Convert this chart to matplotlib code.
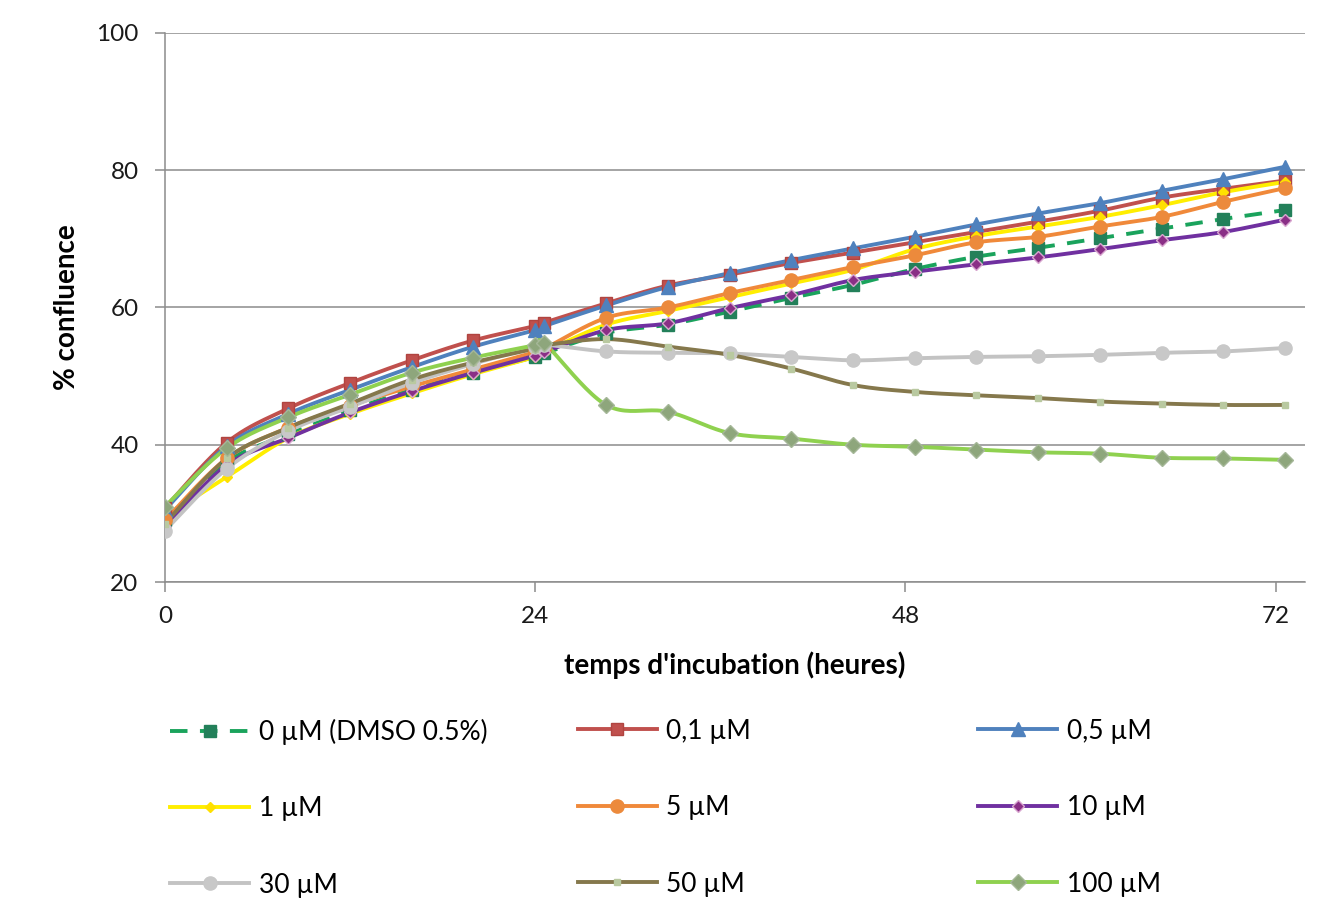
import numpy as np
import matplotlib
matplotlib.use('Agg')
import matplotlib.pyplot as plt
from matplotlib.lines import Line2D

plt.rcParams['font.family'] = ['Lato', 'DejaVu Sans']

# time points (hours) and % confluence per concentration
hours = [0, 4, 8, 12, 16, 20, 24, 24.6, 28.6, 32.6, 36.6, 40.6, 44.6,
         48.6, 52.6, 56.6, 60.6, 64.6, 68.6, 72.6]

c_dmso = [29.0, 37.5, 41.5, 45.0, 48.0, 50.5, 52.8, 53.3, 56.3, 57.5, 59.4,
          61.4, 63.3, 65.6, 67.4, 68.7, 70.1, 71.5, 72.9, 74.2]
c_01 = [30.8, 40.3, 45.3, 49.0, 52.3, 55.2, 57.3, 57.8, 60.6, 63.2, 64.8,
        66.5, 68.0, 69.5, 71.0, 72.5, 74.1, 76.0, 77.3, 78.5]
c_05 = [30.5, 39.8, 44.5, 48.0, 51.3, 54.3, 56.7, 57.3, 60.3, 63.0, 65.0,
        66.9, 68.6, 70.3, 72.1, 73.7, 75.2, 77.0, 78.7, 80.5]
c_1 = [29.5, 35.3, 41.0, 44.5, 47.5, 50.3, 52.8, 53.5, 57.5, 59.5, 61.5,
       63.5, 65.5, 68.5, 70.4, 71.8, 73.2, 74.9, 76.8, 78.3]
c_5 = [29.0, 38.0, 42.5, 45.7, 48.5, 51.0, 53.5, 54.0, 58.5, 60.0, 62.1,
       64.0, 65.9, 67.6, 69.5, 70.3, 71.8, 73.2, 75.4, 77.4]
c_10 = [28.0, 37.0, 41.0, 44.7, 47.8, 50.5, 53.0, 53.5, 56.7, 57.7, 59.9,
        61.8, 64.0, 65.2, 66.3, 67.3, 68.5, 69.8, 71.0, 72.8]
c_30 = [27.5, 36.5, 42.0, 45.5, 49.0, 51.8, 54.3, 54.6, 53.6, 53.4, 53.3,
        52.8, 52.3, 52.6, 52.8, 52.9, 53.1, 53.4, 53.6, 54.1]
c_50 = [28.5, 38.0, 42.5, 46.0, 49.5, 52.0, 54.0, 54.5, 55.4, 54.3, 53.1,
        51.1, 48.7, 47.7, 47.2, 46.8, 46.3, 46.0, 45.8, 45.8]
c_100 = [31.0, 39.5, 44.0, 47.3, 50.5, 52.7, 54.5, 54.8, 45.8, 44.8, 41.7,
         40.9, 40.0, 39.7, 39.3, 38.9, 38.7, 38.1, 38.0, 37.8]

labels = ['0 µM (DMSO 0.5%)', '0,1 µM', '0,5 µM', '1 µM', '5 µM', '10 µM',
          '30 µM', '50 µM', '100 µM']
series = [c_dmso, c_01, c_05, c_1, c_5, c_10, c_30, c_50, c_100]

# style per series: line colour, linestyle, marker, marker size, face, edge
styles = [
    ('#1aa35c', (0, (4.5, 3.2)), 's', 8.5, '#23805a', '#23805a'),
    ('#c0504d', '-', 's', 9, '#c0504d', '#b04440'),
    ('#4f81bd', '-', '^', 9.5, '#4f81bd', '#4f81bd'),
    ('#ffee00', '-', 'D', 5.5, '#ffe000', '#ffe000'),
    ('#f0893a', '-', 'o', 9.5, '#ec8a3c', '#ec8a3c'),
    ('#7030a0', '-', 'D', 6.5, '#8a2f86', '#d8a6cf'),
    ('#c3c3c3', '-', 'o', 9.5, '#c8c8c8', '#c8c8c8'),
    ('#85784c', '-', 's', 5, '#b9c9a0', '#b9c9a0'),
    ('#8fd14f', '-', 'D', 8.5, '#8ea67c', '#a5b798'),
]


def excel_smooth(x, y, n=24, sx=2.25):
    """Excel-like smoothed line: cubic Bezier through the points."""
    P = np.column_stack([np.asarray(x, float) * sx, np.asarray(y, float)])
    out = [P[0]]
    t = np.linspace(0, 1, n)[1:, None]
    for i in range(len(P) - 1):
        p0 = P[i - 1] if i > 0 else P[i]
        p1, p2 = P[i], P[i + 1]
        p3 = P[i + 2] if i + 2 < len(P) else P[i + 1]
        c1 = p1 + (p2 - p0) / 6
        c2 = p2 - (p3 - p1) / 6
        seg = ((1 - t) ** 3 * p1 + 3 * (1 - t) ** 2 * t * c1
               + 3 * (1 - t) * t ** 2 * c2 + t ** 3 * p2)
        out.extend(seg)
    out = np.array(out)
    return out[:, 0] / sx, out[:, 1]


fig = plt.figure(figsize=(13.4, 9.19), dpi=100)
ax = fig.add_axes([0.1231, 0.3667, 0.8508, 0.5974])

handles = []
for vals, lab, (col, ls, mk, ms, mfc, mec) in zip(series, labels, styles):
    sxv, syv = excel_smooth(hours, vals)
    ax.plot(sxv, syv, color=col, ls=ls, lw=2.8, zorder=2)
    ax.plot(hours, vals, ls='none', marker=mk, ms=ms, mfc=mfc, mec=mec,
            mew=1.0, zorder=3)
    handles.append(Line2D([0], [0], color=col, ls=ls, lw=2.8, marker=mk,
                          ms=ms, mfc=mfc, mec=mec, label=lab))

ax.set_xlim(0, 73.9)
ax.set_ylim(20, 100)
ax.set_xticks([0, 24, 48, 72])
ax.set_yticks([20, 40, 60, 80, 100])
ax.yaxis.grid(True, color='#8c8c8c', lw=1.1)
ax.set_axisbelow(True)
for s in ('top', 'right'):
    ax.spines[s].set_visible(False)
for s in ('left', 'bottom'):
    ax.spines[s].set_color('#8c8c8c')
    ax.spines[s].set_linewidth(1.1)
ax.tick_params(axis='both', colors='#8c8c8c', width=1.1, length=7,
               labelsize=17.5, labelcolor='#1a1a1a')
ax.tick_params(axis='y', pad=12)
ax.tick_params(axis='x', pad=10)
ax.set_xlabel("temps d'incubation (heures)", fontsize=20, fontweight='bold',
              labelpad=18)
ax.set_ylabel('% confluence', fontsize=20, fontweight='bold', labelpad=12)

# legend: three columns laid out below the plot
col_x = [0.127, 0.431, 0.730]
for c in range(3):
    hs = [handles[c], handles[c + 3], handles[c + 6]]
    fig.legend(handles=hs, loc='upper left', bbox_to_anchor=(col_x[c], 0.218),
               frameon=False, fontsize=19, handlelength=3.0, handletextpad=0.35,
               labelspacing=1.95, borderpad=0, borderaxespad=0)

fig.savefig('out.png', dpi=100)
